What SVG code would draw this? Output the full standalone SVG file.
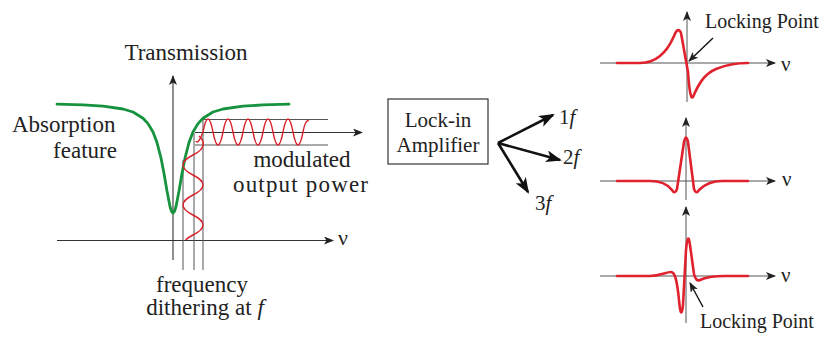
<svg xmlns="http://www.w3.org/2000/svg" width="828" height="338" viewBox="0 0 828 338" font-family="'Liberation Serif', 'Times New Roman', serif">
<defs>
<style>
text{font-family:'Liberation Serif','Times New Roman',serif;fill:#222}
.ax{stroke:#333;stroke-width:1.1;fill:none}
.gl{stroke:#555;stroke-width:1;fill:none}
.red{stroke:#d8202c;stroke-width:1.4;fill:none}
.redt{stroke:#e0222e;stroke-width:2.6;fill:none;stroke-linejoin:round;stroke-linecap:round}
.grn{stroke:#17923f;stroke-width:2.8;fill:none;stroke-linejoin:round;stroke-linecap:round}
.thick{stroke:#111;stroke-width:2.6;fill:none}
.thin{stroke:#111;stroke-width:1.4;fill:none}
</style>
<marker id="ah" markerWidth="10" markerHeight="8" refX="9" refY="4" orient="auto" markerUnits="userSpaceOnUse">
<path d="M0,0 L10,4 L0,8 L2.5,4 Z" fill="#222"/>
</marker>
<marker id="ahb" markerWidth="16" markerHeight="12" refX="14" refY="6" orient="auto" markerUnits="userSpaceOnUse">
<path d="M0,0 L16,6 L0,12 L4,6 Z" fill="#111"/>
</marker>
</defs>

<g id="transmission-plot">
<text x="186" y="60" font-size="23" text-anchor="middle">Transmission</text>
<line class="ax" x1="173" y1="260" x2="173" y2="76" marker-end="url(#ah)"/>
<line class="ax" x1="57" y1="240.5" x2="333" y2="240.5" marker-end="url(#ah)"/>
<text x="338" y="245" font-size="22">ν</text>
<line class="gl" x1="183" y1="160" x2="183" y2="270"/>
<line class="gl" x1="194" y1="133" x2="194" y2="270"/>
<line class="gl" x1="203" y1="119" x2="203" y2="270"/>
<line class="gl" x1="202" y1="119.5" x2="328" y2="119.5"/>
<line class="gl" x1="195" y1="145" x2="328" y2="145"/>
<line class="ax" x1="195" y1="132.5" x2="362" y2="132.5" marker-end="url(#ah)"/>
<path class="grn" d="M57,104.2 L83,104.9 L103,106.2 L123,109 L133,112 L143,118.2 L148,123.6 L153,132 L157,142.6 L161,158 L164,173.4 L167,191 L170,206.5 L171.5,211.3 L173,213 L174.5,211.3 L176,206.5 L179,191 L182,173.4 L185,158 L189,142.6 L193,132 L198,123.6 L203,118.2 L213,112 L223,109 L243,106.2 L263,104.9 L289,104.2"/>
<path class="red" d="M196,141 Q198,145 203,132 Q208,106 213,132 T223,132 T233,132 T243,132 T253,132 T263,132 T273,132 T283,132 T293,132 T303,132 Q305.5,119 309,121"/>
<path class="red" d="M199,136 Q204,140 203,145 Q203,150 193,155 Q173,165 193,175 T193,195 T193,215 T193,235 Q188,237.5 185.5,240"/>
<text x="12" y="132" font-size="23">Absorption</text>
<text x="85" y="158" font-size="23" text-anchor="middle">feature</text>
<text x="302" y="167" font-size="23" text-anchor="middle">modulated</text>
<text x="233" y="192" font-size="23" textLength="135" lengthAdjust="spacing">output power</text>
<text x="202" y="292" font-size="23" text-anchor="middle">frequency</text>
<text x="205" y="315" font-size="23" text-anchor="middle">dithering at <tspan font-style="italic">f</tspan></text>
</g>

<g id="lockin-amplifier">
<rect x="388" y="99" width="100" height="65" fill="#fff" stroke="#333" stroke-width="1.2"/>
<text x="438" y="127" font-size="21" text-anchor="middle">Lock-in</text>
<text x="438" y="152" font-size="21" text-anchor="middle">Amplifier</text>
</g>

<g id="connectors">
<line class="thick" x1="498" y1="143" x2="553" y2="115" marker-end="url(#ahb)"/>
<line class="thick" x1="498" y1="143" x2="560" y2="160" marker-end="url(#ahb)"/>
<line class="thick" x1="498" y1="143" x2="528" y2="192" marker-end="url(#ahb)"/>
</g>

<g id="harmonic-labels">
<text x="559" y="124" font-size="21">1<tspan font-style="italic">f</tspan></text>
<text x="563" y="164" font-size="21">2<tspan font-style="italic">f</tspan></text>
<text x="535" y="210" font-size="21">3<tspan font-style="italic">f</tspan></text>
</g>

<g id="plot-1f">
<line class="gl" x1="600" y1="63" x2="775" y2="63" marker-end="url(#ah)"/>
<line class="gl" x1="687" y1="102" x2="687" y2="12" marker-end="url(#ah)"/>
<text x="781" y="71" font-size="21">ν</text>
<path class="redt" d="M617,63 L640,63 C658,63 668,50 674,36 Q678,26 681,33 L688,72 Q690,101 693,97 C698,85 704,74 716,69 C728,64 738,63 748,63"/>
<text x="705" y="28" font-size="20">Locking Point</text>
<line class="thin" x1="713" y1="38" x2="689" y2="61" marker-end="url(#ah)"/>
</g>

<g id="plot-2f">
<line class="gl" x1="600" y1="181" x2="775" y2="181" marker-end="url(#ah)"/>
<line class="gl" x1="686" y1="200" x2="686" y2="118" marker-end="url(#ah)"/>
<text x="782" y="186" font-size="21">ν</text>
<path class="redt" d="M617,181 L650,181 C662,181 669,186 672,190 Q675,195 677,189 L684,142 Q686,133 688,142 L694,189 Q696,195 699,190 C703,186 710,181 722,181 L748,181"/>
</g>

<g id="plot-3f">
<line class="gl" x1="600" y1="276" x2="775" y2="276" marker-end="url(#ah)"/>
<line class="gl" x1="686" y1="323" x2="686" y2="207" marker-end="url(#ah)"/>
<text x="781" y="282" font-size="21">ν</text>
<path class="redt" d="M617,276 L650,276 C660,276 666,272 671,272 C675,272 677,280 679,300 Q681,322 683,305 L686,250 Q688,230 690,245 L694,274 Q696,282 700,280 C706,277 714,276 725,276 L748,276"/>
<text x="700" y="328" font-size="20">Locking Point</text>
<line class="thin" x1="703" y1="307" x2="690" y2="283" marker-end="url(#ah)"/>
</g>
</svg>
